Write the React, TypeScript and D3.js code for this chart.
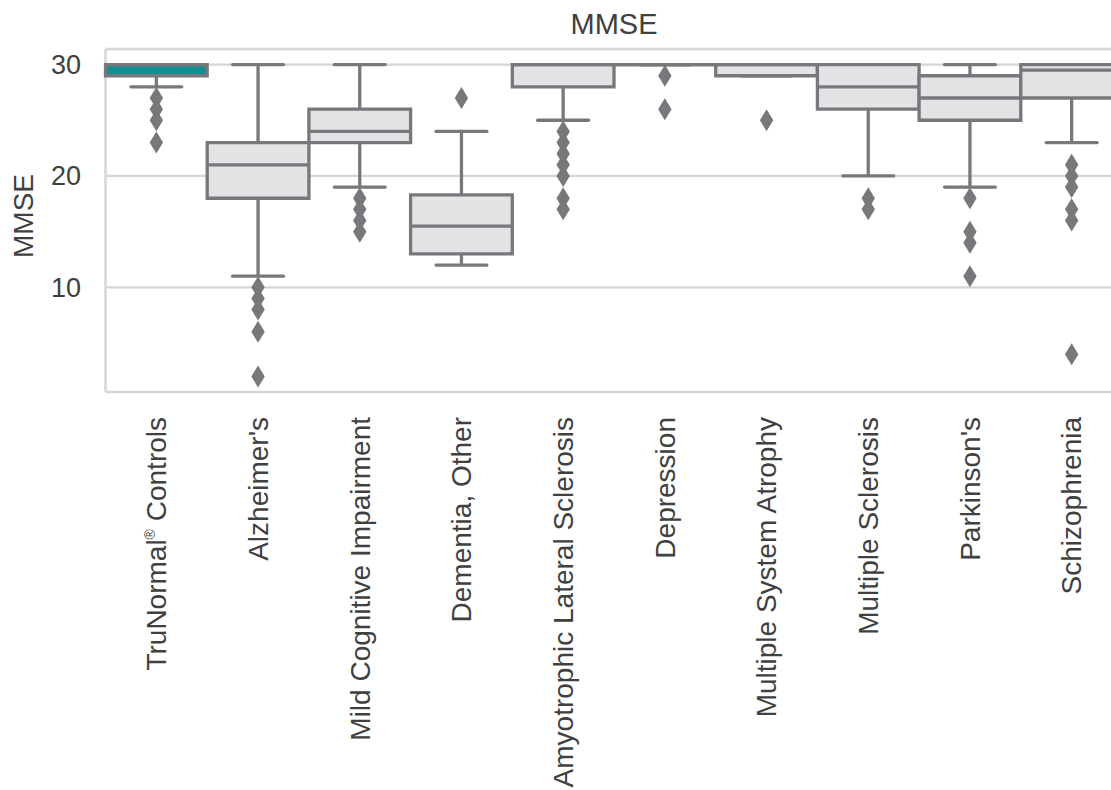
import React from "react";
import * as d3 from "d3";

const categories = [
  "TruNormal® Controls",
  "Alzheimer's",
  "Mild Cognitive Impairment",
  "Dementia, Other",
  "Amyotrophic Lateral Sclerosis",
  "Depression",
  "Multiple System Atrophy",
  "Multiple Sclerosis",
  "Parkinson's",
  "Schizophrenia",
];
const whiskerLow = [28, 11, 19, 12, 25, 30, 29, 20, 19, 23];
const q1 = [29, 18, 23, 13, 28, 30, 29, 26, 25, 27];
const median = [30, 21, 24, 15.5, 30, 30, 30, 28, 27, 29.5];
const q3 = [30, 23, 26, 18.3, 30, 30, 30, 30, 29, 30];
const whiskerHigh = [30, 30, 30, 24, 30, 30, 30, 30, 30, 30];
const fliers: number[][] = [
  [27, 26, 25, 23],
  [10, 9, 8, 6, 2],
  [18, 17, 16, 15],
  [27],
  [24, 23, 22, 21, 20, 18, 17],
  [29, 26],
  [25],
  [18, 17],
  [18, 15, 14, 11],
  [21, 20, 19, 17, 16, 4],
];
const fillColors = ["#138e95", "#e2e3e5", "#e2e3e5", "#e2e3e5", "#e2e3e5", "#e2e3e5", "#e2e3e5", "#e2e3e5", "#e2e3e5", "#e2e3e5"];
const yTicks = [10, 20, 30];

const W = 1111;
const H = 790;
const left = 105.5;
const right = 1122.5;
const top = 49;
const bottom = 392;
const edge = "#77787b";
const grid = "#d6d6d6";
const textColor = "#404040";
const font = "'Liberation Sans', Arial, sans-serif";
const lw = 3.3;

export default function App() {
  const x = d3.scaleBand<string>().domain(categories).range([left, right]).padding(0);
  const y = d3.scaleLinear().domain([0.6, 31.4]).range([bottom, top]);
  const bw = x.bandwidth();
  const diamond = (cx: number, cy: number) =>
    `M${cx},${cy - 11}L${cx + 6.7},${cy}L${cx},${cy + 11}L${cx - 6.7},${cy}Z`;

  return (
    <svg width={W} height={H} style={{ position: "absolute", left: 0, top: 0, background: "#fff" }} fontFamily={font}>
      {yTicks.map((t) => (
        <line key={t} x1={left} x2={W} y1={y(t)} y2={y(t)} stroke={grid} strokeWidth={2.2} />
      ))}
      <line x1={left} x2={W} y1={top} y2={top} stroke={grid} strokeWidth={2.5} />
      <line x1={left} x2={W} y1={bottom} y2={bottom} stroke={grid} strokeWidth={2.5} />
      <line x1={left} x2={left} y1={top} y2={bottom} stroke={grid} strokeWidth={2.5} />

      {categories.map((c, i) => {
        const cx = (x(c) as number) + bw / 2;
        const x0 = x(c) as number;
        const x1 = x0 + bw;
        const capHalf = bw / 4;
        return (
          <g key={c}>
            <line x1={cx} x2={cx} y1={y(q3[i])} y2={y(whiskerHigh[i])} stroke={edge} strokeWidth={lw} />
            <line x1={cx} x2={cx} y1={y(q1[i])} y2={y(whiskerLow[i])} stroke={edge} strokeWidth={lw} />
            <line x1={cx - capHalf} x2={cx + capHalf} y1={y(whiskerHigh[i])} y2={y(whiskerHigh[i])} stroke={edge} strokeWidth={lw} strokeLinecap="round" />
            <line x1={cx - capHalf} x2={cx + capHalf} y1={y(whiskerLow[i])} y2={y(whiskerLow[i])} stroke={edge} strokeWidth={lw} strokeLinecap="round" />
            <path
              d={`M${x0},${y(q1[i])}L${x1},${y(q1[i])}L${x1},${y(q3[i])}L${x0},${y(q3[i])}Z`}
              fill={fillColors[i]}
              stroke={edge}
              strokeWidth={lw}
            />
            <line x1={x0} x2={x1} y1={y(median[i])} y2={y(median[i])} stroke={edge} strokeWidth={lw} />
            {fliers[i].map((v, j) => (
              <path key={j} d={diamond(cx, y(v))} fill={edge} />
            ))}
          </g>
        );
      })}

      {yTicks.map((t) => (
        <text key={t} x={81} y={y(t)} dy="0.35em" textAnchor="end" fontSize={27} fill={textColor}>
          {t}
        </text>
      ))}
      {categories.map((c) => {
        const cx = (x(c) as number) + bw / 2;
        const hasR = c.includes("®");
        const parts = c.split("®");
        return (
          <text
            key={c}
            transform={`translate(${cx},417) rotate(-90)`}
            dy="0.35em"
            textAnchor="end"
            fontSize={28}
            fill={textColor}
          >
            {hasR ? (
              <>
                {parts[0]}
                <tspan fontSize={14} dy={-11}>®</tspan>
                <tspan dy={11}>{parts[1]}</tspan>
              </>
            ) : (
              c
            )}
          </text>
        );
      })}
      <text transform={`translate(33,216) rotate(-90)`} textAnchor="middle" fontSize={28} fill={textColor}>
        MMSE
      </text>
      <text x={(left + right) / 2} y={34} textAnchor="middle" fontSize={29} fill={textColor}>
        MMSE
      </text>
    </svg>
  );
}
